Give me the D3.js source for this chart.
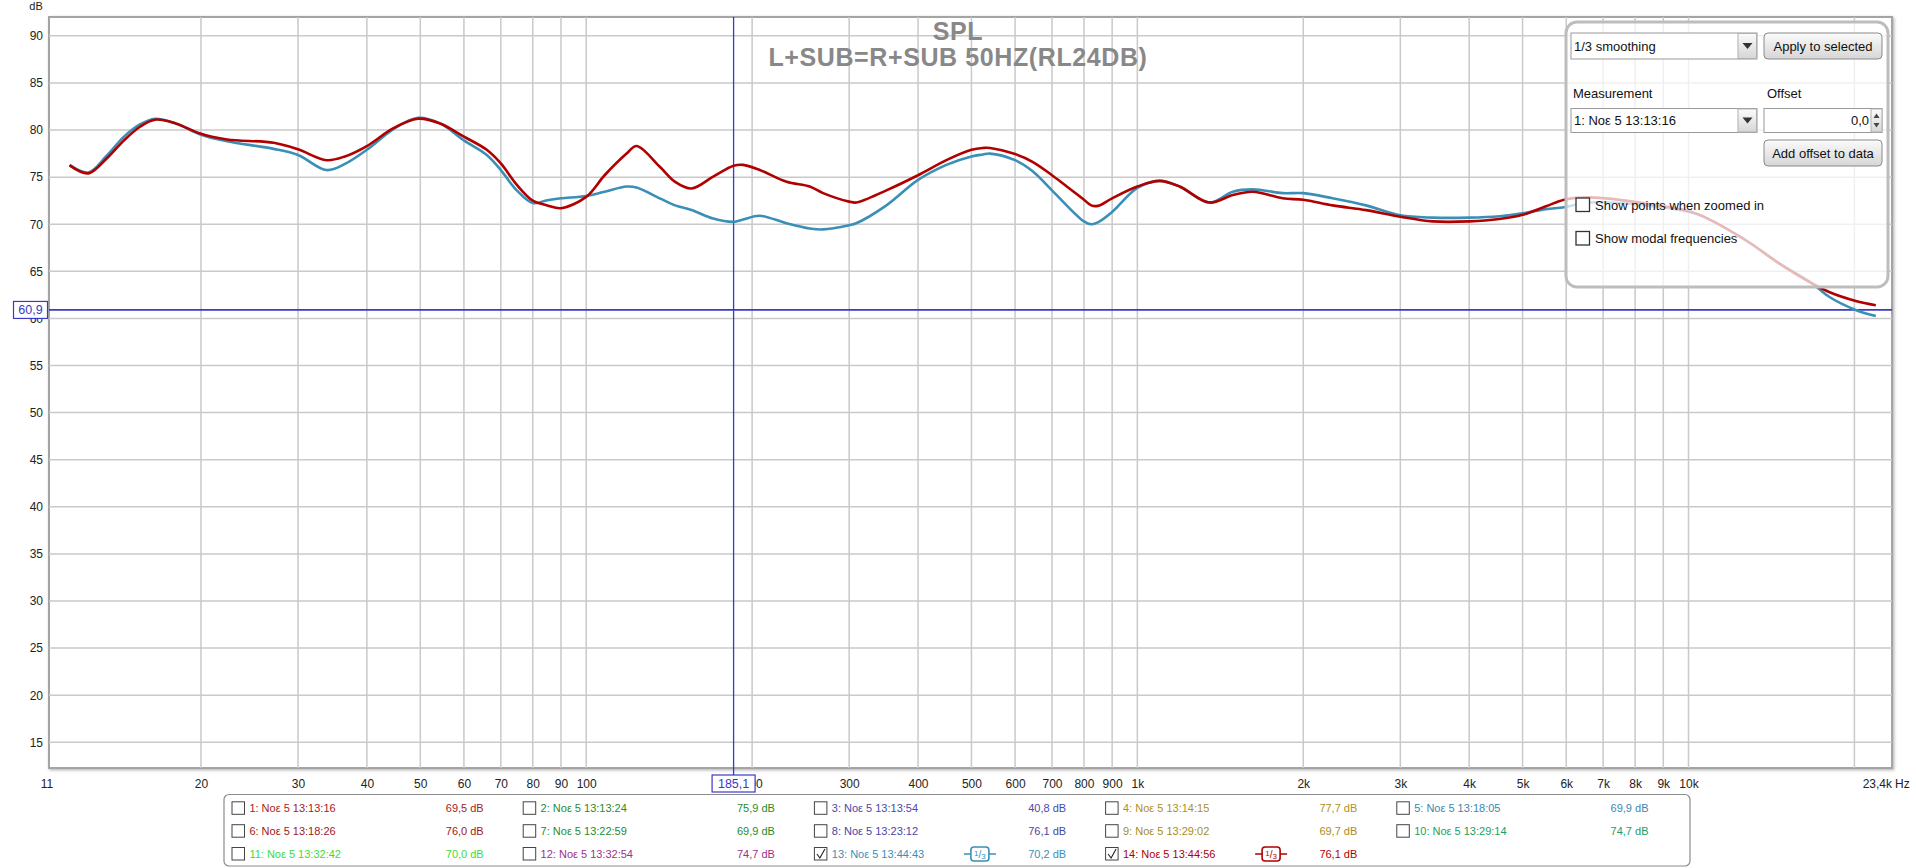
<!DOCTYPE html>
<html><head><meta charset="utf-8">
<script src="https://cdn.jsdelivr.net/npm/d3@7"></script>
<style>
body{margin:0;background:#fff;}
svg{display:block;font-family:"Liberation Sans",Arial,sans-serif;}
</style></head>
<body><svg id="c" width="1916" height="868"></svg>
<script>
// ---------- data ----------
const freqs = [11.55,12.5,13.5,14.5,15.5,16.5,18,20,22.3,27.1,30,33.8,36.5,40,44.7,49.5,54.3,60,66,70,74.8,80,85,90,100,108,118.4,123.4,136,145,155.3,170,185.1,192.6,206.5,231,254.4,269,300,309,350.5,400,450.3,500,524.8,540,600,646.5,700,800,824.8,848,900,1000,1097,1193,1351,1490,1620,1835,2000,2262,2600,3000,3434,4000,4536,5000,5512,5951,6607,8366,10310,12700,14600,16780,17990,20110,21870];
const splRed14 = [76.25,75.4,77.0,78.9,80.35,81.1,80.7,79.6,79.0,78.65,77.95,76.8,77.2,78.3,80.2,81.2,80.7,79.3,77.9,76.45,74.2,72.5,72.0,71.7,72.9,75.2,77.5,78.3,76.1,74.5,73.8,75.05,76.2,76.3,75.75,74.5,74.0,73.3,72.4,72.3,73.6,75.2,76.8,77.9,78.1,78.1,77.45,76.6,75.2,72.6,72.0,71.95,72.75,74.0,74.6,74.0,72.3,73.1,73.45,72.75,72.6,72.0,71.5,70.8,70.3,70.3,70.55,71.0,71.9,72.6,72.85,72.2,71.15,68.3,65.85,63.7,62.8,61.85,61.4];
const splBlue13 = [76.3,75.5,77.3,79.3,80.6,81.2,80.7,79.5,78.8,78.0,77.35,75.75,76.4,77.9,80.1,81.3,80.7,78.9,77.35,75.75,73.6,72.25,72.55,72.75,73.0,73.45,74.0,73.9,72.75,72.0,71.5,70.6,70.25,70.5,70.9,70.1,69.55,69.45,69.9,70.1,72.0,74.7,76.3,77.2,77.4,77.5,76.8,75.6,73.6,70.3,70.0,70.2,71.3,73.85,74.6,74.0,72.3,73.45,73.7,73.3,73.3,72.75,72.0,70.95,70.7,70.7,70.85,71.15,71.6,71.8,72.3,72.0,71.1,68.3,65.85,63.7,62.3,60.9,60.25];
const yTicks = [15,20,25,30,35,40,45,50,55,60,65,70,75,80,85,90];
const xGrid = [20,30,40,50,60,70,80,90,100,200,300,400,500,600,700,800,900,1000,2000,3000,4000,5000,6000,7000,8000,9000,10000,20000];
const xTickVals = [20,30,40,50,60,70,80,90,100,200,300,400,500,600,700,800,900,1000,2000,3000,4000,5000,6000,7000,8000,9000,10000];
const xTickText = ["20","30","40","50","60","70","80","90","100","200","300","400","500","600","700","800","900","1k","2k","3k","4k","5k","6k","7k","8k","9k","10k"];
const xDomain = [10.6, 23400];
const yDomain = [12.27, 92.0];
const cursorF = 185.1, cursorDb = 60.9;
const legendNames = ["1: Noε 5 13:13:16","2: Noε 5 13:13:24","3: Noε 5 13:13:54","4: Noε 5 13:14:15","5: Noε 5 13:18:05",
  "6: Noε 5 13:18:26","7: Noε 5 13:22:59","8: Noε 5 13:23:12","9: Noε 5 13:29:02","10: Noε 5 13:29:14",
  "11: Noε 5 13:32:42","12: Noε 5 13:32:54","13: Noε 5 13:44:43","14: Noε 5 13:44:56"];
const legendValues = ["69,5 dB","75,9 dB","40,8 dB","77,7 dB","69,9 dB","76,0 dB","69,9 dB","76,1 dB","69,7 dB","74,7 dB","70,0 dB","74,7 dB","70,2 dB","76,1 dB"];
const legendColors = ["#a82222","#2a8a2a","#4a4aa8","#b0901a","#3a88b0","#a01818","#2a8a2a","#4646a6","#a88c20","#20a060","#3cdc3c","#a03088","#3a8fb7","#b00000"];
const legendChecked = [false,false,false,false,false,false,false,false,false,false,false,false,true,true];

// ---------- layout ----------
const svg = d3.select("#c");
const L=49, R=1892, T=17, B=768;
const x = d3.scaleLog().domain(xDomain).range([L,R]);
const y = d3.scaleLinear().domain(yDomain).range([B,T]);

const defs = svg.append("defs");
const f = defs.append("filter").attr("id","sh").attr("x","-2%").attr("y","-2%").attr("width","104%").attr("height","104%");
f.append("feDropShadow").attr("dx",1.2).attr("dy",1.2).attr("stdDeviation",1.4).attr("flood-color","#888").attr("flood-opacity",0.65);
defs.append("clipPath").attr("id","clip").append("rect").attr("x",L).attr("y",T).attr("width",R-L).attr("height",B-T);
const g1 = defs.append("linearGradient").attr("id","btn").attr("x1",0).attr("y1",0).attr("x2",0).attr("y2",1);
g1.append("stop").attr("offset","0%").attr("stop-color","#fbfbfb");
g1.append("stop").attr("offset","100%").attr("stop-color","#d6d6d6");

svg.append("rect").attr("x",L).attr("y",T).attr("width",R-L).attr("height",B-T)
  .attr("fill","#fff").attr("stroke","#a4a4a4").attr("stroke-width",2).attr("filter","url(#sh)");

// grid
const grid = svg.append("g");
grid.selectAll("line.h").data(yTicks).join("line")
  .attr("x1",L).attr("x2",R).attr("y1",d=>y(d)).attr("y2",d=>y(d))
  .attr("stroke","#c9c9c9").attr("stroke-width",1.5);
grid.selectAll("line.v").data(xGrid).join("line")
  .attr("y1",T).attr("y2",B).attr("x1",d=>x(d)).attr("x2",d=>x(d))
  .attr("stroke","#c9c9c9").attr("stroke-width",1.5);

// y axis labels
const yAxis = d3.axisLeft(y).tickValues(yTicks).tickSize(0).tickPadding(6).tickFormat(d3.format("d"));
const ya = svg.append("g").attr("transform",`translate(${L},0)`).call(yAxis);
ya.select(".domain").remove();
ya.selectAll("text").attr("font-size",12).attr("fill","#222").attr("font-family","Liberation Sans, Arial, sans-serif");
svg.append("text").attr("x",36).attr("y",10).attr("text-anchor","middle").attr("font-size",11).attr("fill","#222").text("dB");

// x axis labels
const xAxis = d3.axisBottom(x).tickValues(xTickVals).tickSize(0).tickPadding(0)
  .tickFormat((d,i)=>xTickText[i]);
const xa = svg.append("g").attr("transform",`translate(0,${B})`).call(xAxis);
xa.select(".domain").remove();
xa.selectAll("text").attr("font-size",12).attr("fill","#222").attr("dy",null).attr("y",20)
  .attr("font-family","Liberation Sans, Arial, sans-serif");
svg.append("text").attr("x",x(xDomain[0])-2).attr("y",B+20).attr("text-anchor","middle").attr("font-size",12).attr("fill","#222").text("11");
svg.append("text").attr("x",x(xDomain[1])).attr("y",B+20).attr("text-anchor","end").attr("font-size",12).attr("fill","#222").text("23,4k");
svg.append("text").attr("x",x(xDomain[1])+3).attr("y",B+20).attr("text-anchor","start").attr("font-size",12).attr("fill","#222").text("Hz");

// title
svg.append("text").attr("x",958).attr("y",40).attr("text-anchor","middle").attr("font-size",25).attr("font-weight","bold")
  .attr("letter-spacing",0.6).attr("fill","#888").text("SPL");
svg.append("text").attr("x",958).attr("y",66).attr("text-anchor","middle").attr("font-size",25).attr("font-weight","bold")
  .attr("letter-spacing",0.6).attr("fill","#888").text("L+SUB=R+SUB 50HZ(RL24DB)");

// cursors
const cur = "#3a3ac8";
svg.append("line").attr("x1",L).attr("x2",R).attr("y1",y(cursorDb)).attr("y2",y(cursorDb)).attr("stroke",cur).attr("stroke-width",1.8);
svg.append("line").attr("x1",x(cursorF)).attr("x2",x(cursorF)).attr("y1",T).attr("y2",B+7).attr("stroke",cur).attr("stroke-width",1.3);

// curves
const pts = (arr)=>freqs.map((fq,i)=>({f:fq,v:arr[i]}));
const line = d3.line().x(d=>x(d.f)).y(d=>y(d.v)).curve(d3.curveCatmullRom.alpha(0.5));
const cg = svg.append("g").attr("clip-path","url(#clip)");
cg.append("path").attr("d",line(pts(splBlue13))).attr("fill","none").attr("stroke","#3a8fb7").attr("stroke-width",2.6).attr("stroke-linejoin","round");
cg.append("path").attr("d",line(pts(splRed14))).attr("fill","none").attr("stroke","#b00000").attr("stroke-width",2.6).attr("stroke-linejoin","round");

// cursor labels
const cx = x(cursorF);
svg.append("rect").attr("x",cx-21.5).attr("y",775).attr("width",43).attr("height",17).attr("fill","#fff").attr("stroke",cur).attr("stroke-width",1.2);
svg.append("text").attr("x",cx).attr("y",788).attr("text-anchor","middle").attr("font-size",12.5).attr("fill",cur).text(d3.format(".1f")(cursorF).replace(".",","));
svg.append("rect").attr("x",13.5).attr("y",y(cursorDb)-8.5).attr("width",34).attr("height",17).attr("fill","#fff").attr("stroke",cur).attr("stroke-width",1.2);
svg.append("text").attr("x",30.5).attr("y",y(cursorDb)+4.5).attr("text-anchor","middle").attr("font-size",12.5).attr("fill",cur).text(d3.format(".1f")(cursorDb).replace(".",","));

// ---------- control panel ----------
const P = svg.append("g").attr("font-size",13).attr("fill","#111");
P.append("rect").attr("x",1566).attr("y",22).attr("width",322).attr("height",265).attr("rx",11)
  .attr("fill","#fff").attr("fill-opacity",0.72).attr("stroke","#bdbdbd").attr("stroke-width",3);
function dropdown(x0,y0,w,h,label){
  P.append("rect").attr("x",x0).attr("y",y0).attr("width",w).attr("height",h).attr("fill","#fff").attr("stroke","#9a9a9a");
  P.append("rect").attr("x",x0+w-19).attr("y",y0+0.5).attr("width",18.5).attr("height",h-1).attr("fill","url(#btn)").attr("stroke","#b0b0b0");
  const ax=x0+w-9.5, ay=y0+h/2;
  P.append("path").attr("d",`M${ax-5},${ay-3}L${ax+5},${ay-3}L${ax},${ay+3}Z`).attr("fill","#333");
  P.append("text").attr("x",x0+3).attr("y",y0+h/2+4.5).text(label);
}
function button(x0,y0,w,h,label){
  P.append("rect").attr("x",x0).attr("y",y0).attr("width",w).attr("height",h).attr("rx",4).attr("fill","url(#btn)").attr("stroke","#8a8a8a");
  P.append("text").attr("x",x0+w/2).attr("y",y0+h/2+4.5).attr("text-anchor","middle").text(label);
}
dropdown(1571,33,186,26,"1/3 smoothing");
button(1764,33,118,26,"Apply to selected");
P.append("text").attr("x",1573).attr("y",98).text("Measurement");
P.append("text").attr("x",1767).attr("y",98).text("Offset");
dropdown(1571,108.5,186,24,"1: Noε 5 13:13:16");
P.append("rect").attr("x",1764).attr("y",108.5).attr("width",118).attr("height",24).attr("fill","#fff").attr("stroke","#9a9a9a");
P.append("text").attr("x",1869).attr("y",125).attr("text-anchor","end").text("0,0");
P.append("rect").attr("x",1871).attr("y",109).attr("width",11).attr("height",23).attr("fill","url(#btn)").attr("stroke","#b0b0b0");
P.append("path").attr("d","M1873.5,118L1879.5,118L1876.5,113.5Z").attr("fill","#444");
P.append("path").attr("d","M1873.5,123L1879.5,123L1876.5,127.5Z").attr("fill","#444");
button(1764,140,118,26,"Add offset to data");
[["Show points when zoomed in",198],["Show modal frequencies",231.5]].forEach(([t,yy])=>{
  P.append("rect").attr("x",1576).attr("y",yy).attr("width",13.5).attr("height",13.5).attr("fill","#fff").attr("stroke","#333").attr("stroke-width",1.3);
  P.append("text").attr("x",1595).attr("y",yy+11.5).text(t);
});

// ---------- legend ----------
const Lg = svg.append("g").attr("font-size",11);
Lg.append("rect").attr("x",224).attr("y",794.5).attr("width",1466).attr("height",71.5).attr("rx",5)
  .attr("fill","#fff").attr("stroke","#8c8c8c").attr("stroke-width",1.2);
const colX = d3.range(5).map(i=>232+i*291.2);
const rowY = [808.3,831.2,854];
legendNames.forEach((name,i)=>{
  const c=i%5, r=Math.floor(i/5);
  const bx=colX[c], cy=rowY[r];
  Lg.append("rect").attr("x",bx).attr("y",cy-6.5).attr("width",12.5).attr("height",12.5).attr("fill","#fff").attr("stroke","#444").attr("stroke-width",1);
  if(legendChecked[i]){
    Lg.append("path").attr("d",`M${bx+2.5},${cy}L${bx+5.5},${cy+4}L${bx+10.5},${cy-5}`).attr("fill","none").attr("stroke","#222").attr("stroke-width",1.1);
  }
  Lg.append("text").attr("x",bx+17.4).attr("y",cy+4).attr("fill",legendColors[i]).text(name);
  Lg.append("text").attr("x",bx+251.7).attr("y",cy+4).attr("text-anchor","end").attr("fill",legendColors[i]).text(legendValues[i]);
  if(legendChecked[i]){
    const ix = bx+165.5, col=legendColors[i];
    Lg.append("line").attr("x1",ix-16).attr("x2",ix+16).attr("y1",cy).attr("y2",cy).attr("stroke",col).attr("stroke-width",1.5);
    Lg.append("rect").attr("x",ix-9).attr("y",cy-7).attr("width",18).attr("height",14).attr("rx",3).attr("fill","#fff").attr("stroke",col).attr("stroke-width",1.6);
    const t = Lg.append("text").attr("x",ix).attr("y",cy+4).attr("text-anchor","middle").attr("fill",col).attr("font-size",10);
    t.append("tspan").attr("dy",-2).attr("font-size",8).text("1");
    t.append("tspan").attr("dy",2).text("/");
    t.append("tspan").attr("dy",1).attr("font-size",8).text("3");
  }
});
</script>
</body></html>
